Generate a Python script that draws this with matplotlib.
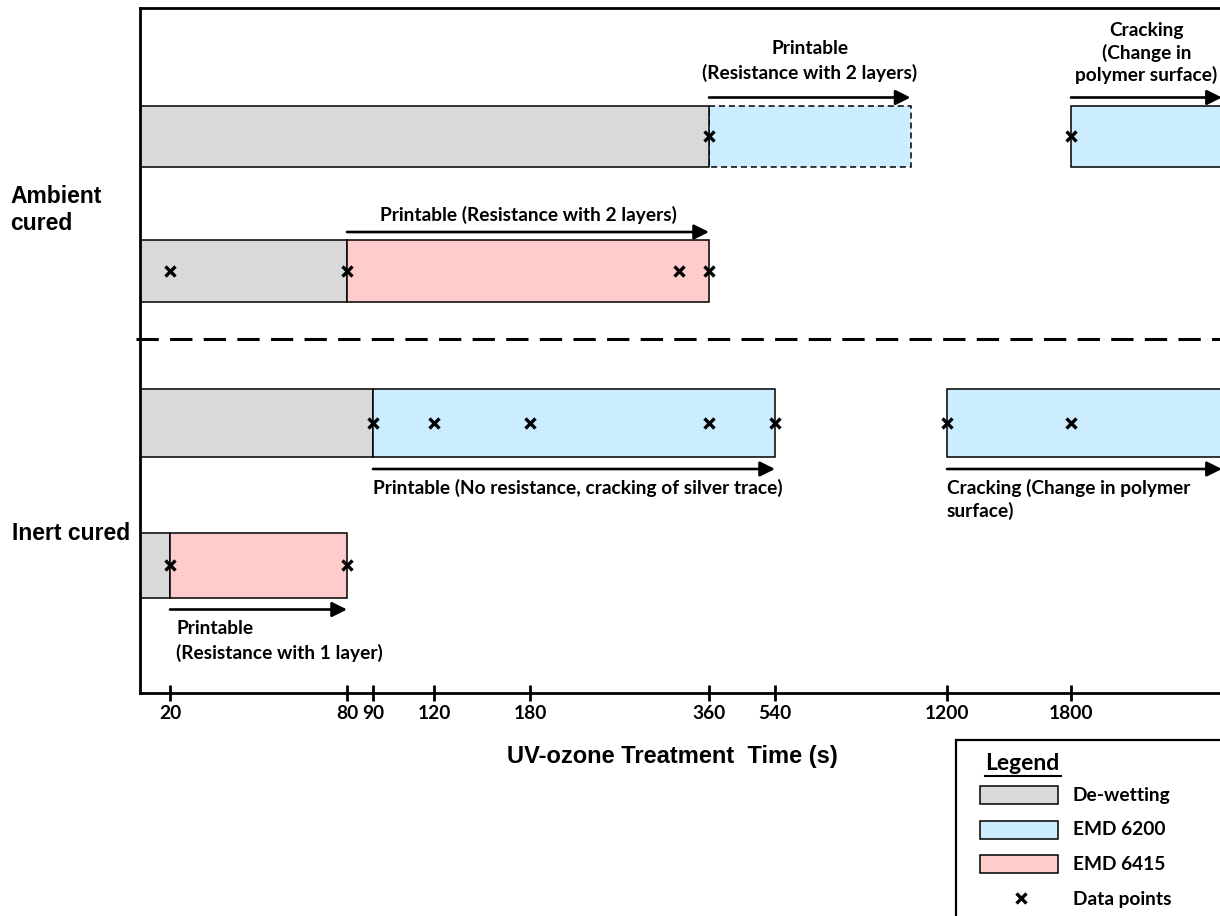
import numpy as np
import matplotlib.pyplot as plt
from matplotlib.patches import Rectangle
from matplotlib.lines import Line2D

# tick values on the (non-linear) time axis
tick_vals = [20, 80, 90, 120, 180, 360, 540, 1200, 1800]

# bar segments: row index, start time, end time, material, dashed outline
seg_row = [0, 0, 0, 1, 1, 2, 2, 2, 3, 3]
seg_start = [0, 360, 1800, 0, 80, 0, 90, 1200, 0, 20]
seg_end = [360, 1060, 3000, 80, 360, 90, 540, 3000, 20, 80]
seg_kind = ['De-wetting', 'EMD 6200', 'EMD 6200',
            'De-wetting', 'EMD 6415',
            'De-wetting', 'EMD 6200', 'EMD 6200',
            'De-wetting', 'EMD 6415']
seg_dashed = [False, True, False, False, False, False, False, False, False, False]

# measured data points
point_row = [0, 0, 1, 1, 1, 1, 2, 2, 2, 2, 2, 2, 2, 3, 3]
point_time = [360, 1800, 20, 80, 330, 360, 90, 120, 180, 360, 540, 1200, 1800, 20, 80]

# arrows with their notes
arrow_row = [0, 0, 1, 2, 2, 3]
arrow_start = [360, 1800, 80, 90, 1200, 20]
arrow_end = [1060, 2530, 360, 540, 2530, 80]
arrow_text = ['Printable\n(Resistance with 2 layers)',
              'Cracking\n(Change in\npolymer surface)',
              'Printable (Resistance with 2 layers)',
              'Printable (No resistance, cracking of silver trace)',
              'Cracking (Change in polymer\nsurface)',
              'Printable\n(Resistance with 1 layer)']
arrow_text_side = ['above', 'above', 'above', 'below', 'below', 'below']

colors = {'De-wetting': '#D9D9D9', 'EMD 6200': '#CCECFF', 'EMD 6415': '#FFCCCC'}

# ---- layout (pixels of a 1220x916 canvas) ----
W, H = 1220, 916
scale_vals = [0] + tick_vals + [2400, 3000]
scale_pos = [0, 30, 207, 233, 294, 390, 569, 635, 807, 931, 1055, 1179]
row_y = [136, 271, 423, 565]
row_h = [61, 62, 68, 65]
text_off = [16, 8, 10, 11]
text_ls = [1.45, 1.35, 1.35, 1.4]

def fwd(x):
    return np.interp(x, scale_vals, scale_pos)

def inv(p):
    return np.interp(p, scale_pos, scale_vals)

ann_font = dict(family='Lato', fontweight='bold', fontsize=13.8)

fig = plt.figure(figsize=(W / 100, H / 100), dpi=100)
ax = fig.add_axes([140 / W, 1 - 693 / H, 1179 / W, 685 / H])
ax.set_xscale('function', functions=(fwd, inv))
ax.set_xlim(0, 3000)
ax.set_ylim(693, 8)

# bars
for r, s, e, k, d in zip(seg_row, seg_start, seg_end, seg_kind, seg_dashed):
    ax.barh(row_y[r], e - s, left=s, height=row_h[r], color=colors[k],
            edgecolor='black', linewidth=1.1, linestyle=(0, (4, 2.5)) if d else '-',
            zorder=1 if d else 2)

# data points
ax.plot(point_time, [row_y[r] for r in point_row], linestyle='none', marker='x',
        color='black', markersize=7.5, markeredgewidth=2.4, zorder=4)

# arrows and notes
for i, (r, s, e, t, side) in enumerate(zip(arrow_row, arrow_start, arrow_end,
                                           arrow_text, arrow_text_side)):
    if side == 'above':
        ya = row_y[r] - row_h[r] / 2 - 8
    else:
        ya = row_y[r] + row_h[r] / 2 + 12
    ax.annotate('', xy=(e, ya), xytext=(s, ya),
                arrowprops=dict(arrowstyle='-|>,head_length=0.6,head_width=0.3',
                                color='black', lw=1.9, shrinkA=0, shrinkB=0,
                                mutation_scale=15), zorder=3)
    ls = 1.3 if i == 1 else text_ls[r]
    off = 13 if i == 1 else text_off[r]
    if side == 'above':
        xm = inv((fwd(s) + fwd(e)) / 2)
        ax.text(xm, ya - off, t, ha='center', va='bottom', linespacing=ls,
                **ann_font)
    else:
        ax.text(inv(fwd(s) + 6 if r == 3 else fwd(s)), ya + off, t,
                ha='left', va='top', linespacing=ls, **ann_font)

# divider between ambient and inert cured
ax.axhline(339, xmin=-0.003, color='black', lw=2.2, linestyle=(0, (7.3, 3.7)),
           clip_on=False, zorder=3)

ax.spines['right'].set_visible(False)
for sp in ['left', 'bottom', 'top']:
    ax.spines[sp].set_linewidth(2.0)
ax.set_yticks([])
ax.set_xticks(tick_vals)
ax.set_xticklabels([str(v) for v in tick_vals], **ann_font)
ax.tick_params(axis='x', direction='inout', length=11, width=2.0, pad=3)

# row group labels
fig.text(10 / W, 1 - 210 / H, 'Ambient\ncured', family='Liberation Sans',
         fontweight='bold', fontsize=16.5, ha='left', va='center', linespacing=1.2)
fig.text(12 / W, 1 - 534 / H, 'Inert cured', family='Liberation Sans',
         fontweight='bold', fontsize=16.5, ha='left', va='center')

fig.text(672 / W, 1 - 756 / H, 'UV-ozone Treatment  Time (s)', family='Liberation Sans',
         fontweight='bold', fontsize=17, ha='center', va='center')

# legend box
fig.add_artist(Rectangle((956 / W, 1 - 960 / H), 320 / W, 220 / H,
                         transform=fig.transFigure, facecolor='white',
                         edgecolor='black', linewidth=1.6))
fig.text(985 / W, 1 - 764 / H, 'Legend', ha='left', va='center',
         family='Lato', fontweight='bold', fontsize=16.5)
fig.add_artist(Line2D([985 / W, 1061 / W], [1 - 776 / H, 1 - 776 / H],
                      transform=fig.transFigure, color='black', lw=1.5))
leg_labels = ['De-wetting', 'EMD 6200', 'EMD 6415']
for i, lab in enumerate(leg_labels):
    yc = 795 + 34.5 * i
    fig.add_artist(Rectangle((980 / W, 1 - (yc + 9) / H), 78 / W, 18 / H,
                             transform=fig.transFigure, facecolor=colors[lab],
                             edgecolor='black', linewidth=1.1))
    fig.text(1073 / W, 1 - yc / H, lab, ha='left', va='center', **ann_font)
fig.add_artist(Line2D([1021 / W], [1 - 898 / H], transform=fig.transFigure,
                      marker='x', color='black', markersize=7.5, markeredgewidth=2.4))
fig.text(1073 / W, 1 - 899 / H, 'Data points', ha='left', va='center', **ann_font)

plt.savefig('out.png', dpi=100)
